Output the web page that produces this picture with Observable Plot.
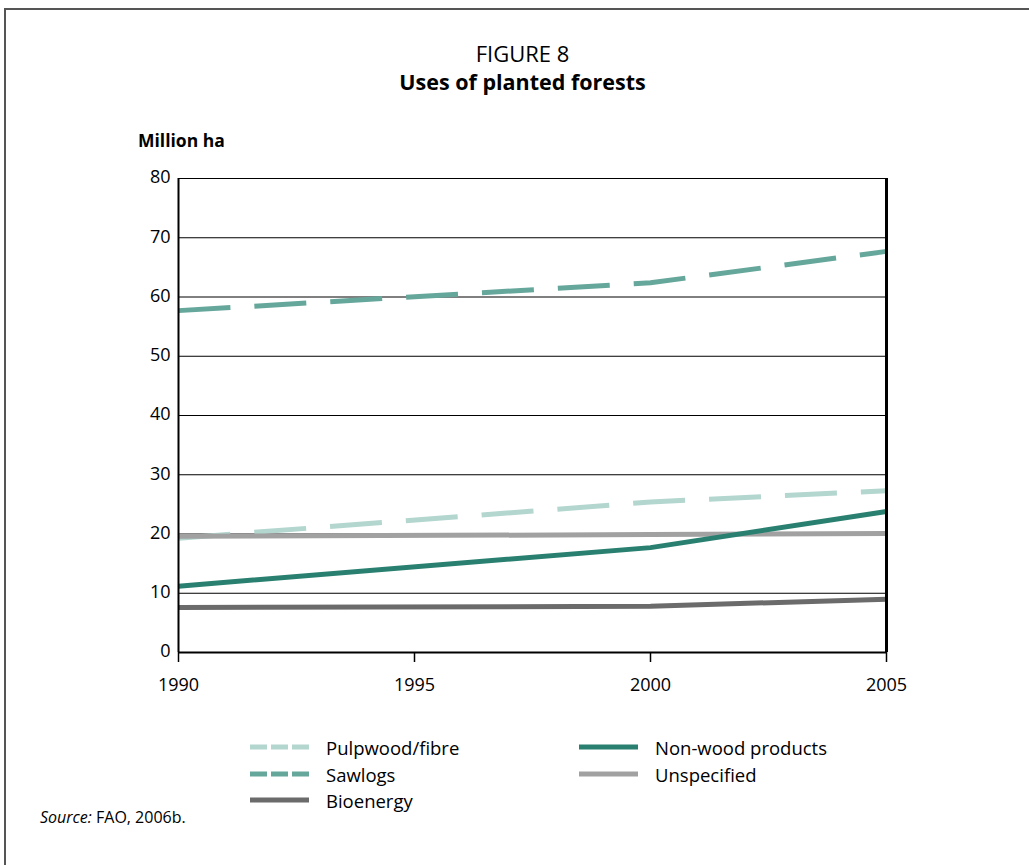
<!DOCTYPE html>
<html>
<head>
<meta charset="utf-8">
<script src="https://cdn.jsdelivr.net/npm/d3@7"></script>
<script src="https://cdn.jsdelivr.net/npm/@observablehq/plot@0.6"></script>
<style>
  html, body { margin: 0; padding: 0; background: #fff; overflow: hidden; }
  #wrap { position: relative; width: 1029px; height: 865px; font-family: "Open Sans", sans-serif; color: #000; }
  #frame { position: absolute; left: 4px; top: 8px; width: 1100px; height: 1000px; border: 2px solid #555; box-sizing: border-box; }
  .t { position: absolute; white-space: nowrap; }
  #chart { position: absolute; left: 0; top: 0; }
  #chart svg text { font-size: 18px !important; fill: #000; }
  .leg { position: absolute; display: flex; align-items: center; font-size: 18.5px; }
  .leg svg { margin-right: 17px; }
</style>
</head>
<body>
<div id="wrap">
  <div id="frame"></div>
  <div class="t" style="left:0;width:1045px;text-align:center;top:38px;font-size:22px;">FIGURE 8</div>
  <div class="t" style="left:0;width:1045px;text-align:center;top:67px;font-size:21.5px;font-weight:bold;">Uses of planted forests</div>
  <div class="t" style="left:138px;top:128px;font-size:17.5px;font-weight:bold;">Million ha</div>
  <div id="chart"></div>
  <div id="legend"></div>
  <div class="t" style="left:40px;top:806px;font-size:16px;"><i>Source:</i> FAO, 2006b.</div>
</div>
<script>
const years = [1990, 2000, 2005];
const seriesNames = ["Pulpwood/fibre", "Sawlogs", "Bioenergy", "Non-wood products", "Unspecified"];
const pulpwood = [19.3, 25.4, 27.3];
const sawlogs = [57.7, 62.4, 67.7];
const bioenergy = [7.6, 7.8, 9.0];
const nonWood = [11.2, 17.7, 23.8];
const unspecified = [19.6, 19.9, 20.1];
const yTicks = [0, 10, 20, 30, 40, 50, 60, 70, 80];
const xTicks = [1990, 1995, 2000, 2005];

const styles = {
  "Pulpwood/fibre": {color: "#b3d6cf", dash: "52 24", values: pulpwood},
  "Sawlogs": {color: "#66a79c", dash: "52 24", values: sawlogs},
  "Bioenergy": {color: "#6b6b6b", dash: null, values: bioenergy},
  "Non-wood products": {color: "#2a8070", dash: null, values: nonWood},
  "Unspecified": {color: "#a1a1a1", dash: null, values: unspecified}
};

const drawOrder = ["Sawlogs", "Pulpwood/fibre", "Unspecified", "Bioenergy", "Non-wood products"];
const lineMarks = drawOrder.map(name => {
  const s = styles[name];
  const data = years.map((yr, i) => ({year: yr, value: s.values[i]}));
  return Plot.line(data, {x: "year", y: "value", stroke: s.color, strokeWidth: 5,
    strokeDasharray: s.dash || undefined, strokeLinecap: "butt", strokeLinejoin: "round"});
});

const font = "'Open Sans', sans-serif";
const chart = Plot.plot({
  width: 1029, height: 720,
  marginTop: 178, marginLeft: 178, marginRight: 143, marginBottom: 68,
  style: {fontFamily: font, fontSize: "18px", background: "transparent", color: "#000"},
  x: {domain: [1990, 2005]},
  y: {domain: [0, 80]},
  marks: [
    Plot.ruleY(yTicks.filter(d => d > 0), {stroke: "#000", strokeWidth: 1}),
    ...lineMarks,
    Plot.ruleX([1990], {stroke: "#000", strokeWidth: 2}),
    Plot.ruleX([2005], {stroke: "#000", strokeWidth: 3}),
    Plot.ruleY([0], {stroke: "#000", strokeWidth: 2}),
    Plot.axisX({ticks: xTicks, tickFormat: d => String(d), tickSize: 10, tickPadding: 16, fontSize: 18, strokeWidth: 1.5, label: null}),
    Plot.axisY({ticks: yTicks, tickSize: 0, tickPadding: 8, fontSize: 18, label: null, dy: -1})
  ]
});
document.getElementById("chart").appendChild(chart);

// legend
const legendPos = {
  "Pulpwood/fibre": [250, 747],
  "Sawlogs": [250, 774],
  "Bioenergy": [250, 800],
  "Non-wood products": [579, 747],
  "Unspecified": [579, 774]
};
const legend = document.getElementById("legend");
seriesNames.forEach(name => {
  const s = styles[name];
  const [lx, ly] = legendPos[name];
  const div = document.createElement("div");
  div.className = "leg";
  div.style.left = lx + "px";
  div.style.top = (ly - 13) + "px";
  div.style.height = "26px";
  const dash = s.dash ? 'stroke-dasharray="17 4"' : "";
  div.innerHTML = `<svg width="59" height="6"><line x1="0" y1="3" x2="59" y2="3" stroke="${s.color}" stroke-width="5" ${dash}/></svg><span>${name}</span>`;
  legend.appendChild(div);
});
</script>
</body>
</html>
